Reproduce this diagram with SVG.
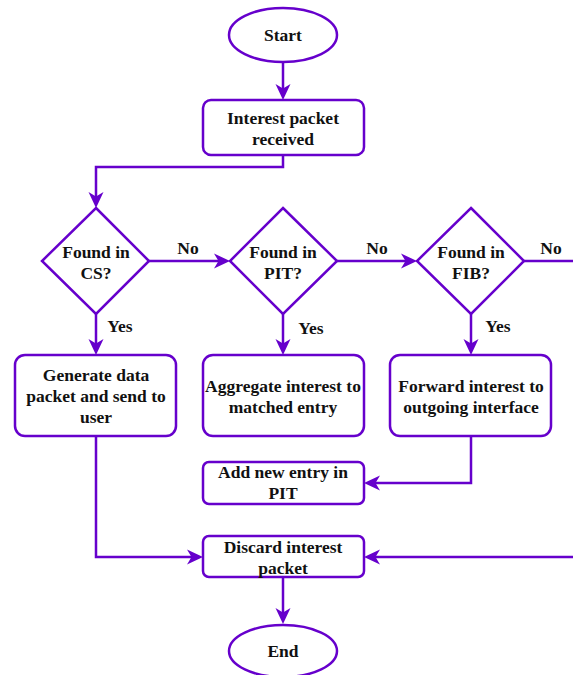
<svg xmlns="http://www.w3.org/2000/svg" width="573" height="675" viewBox="0 0 573 675">
  <style>
    .shape { fill: #ffffff; stroke: #6600CC; stroke-width: 2.5; }
    .edge { fill: none; stroke: #6600CC; stroke-width: 2.5; }
    text { font-family: "Liberation Serif", "Times New Roman", serif; font-weight: bold; font-size: 17.5px; fill: #111111; text-anchor: middle; }
  </style>
  <defs>
    <marker id="arrow" markerUnits="userSpaceOnUse" markerWidth="20" markerHeight="20" viewBox="-2 -10 20 20" refX="6" refY="0" orient="auto">
      <path d="M0,-7.5 L16,0 L0,7.5 L4.5,0 z" fill="#6600CC"/>
    </marker>
  </defs>

  <!-- connectors -->
  <g id="connectors">
    <path class="edge" d="M283,62 V90" marker-end="url(#arrow)"/>
    <path class="edge" d="M283,155 V167 H96 V198" marker-end="url(#arrow)"/>
    <path class="edge" d="M149,261 H220" marker-end="url(#arrow)"/>
    <path class="edge" d="M337,261 H407" marker-end="url(#arrow)"/>
    <path class="edge" d="M524,261 H580 V557 H374" marker-end="url(#arrow)"/>
    <path class="edge" d="M96,314 V345" marker-end="url(#arrow)"/>
    <path class="edge" d="M283,314 V345" marker-end="url(#arrow)"/>
    <path class="edge" d="M471,314 V345" marker-end="url(#arrow)"/>
    <path class="edge" d="M471,436 V483 H374" marker-end="url(#arrow)"/>
    <path class="edge" d="M96,436 V557 H193" marker-end="url(#arrow)"/>
    <path class="edge" d="M283,577 V614" marker-end="url(#arrow)"/>
    <text x="188" y="254">No</text>
    <text x="377" y="254">No</text>
    <text x="551" y="254">No</text>
    <text x="120" y="332">Yes</text>
    <text x="311" y="334">Yes</text>
    <text x="498" y="332">Yes</text>
  </g>

  <g id="start">
    <ellipse class="shape" cx="283" cy="35" rx="54" ry="27"/>
    <text x="283" y="41">Start</text>
  </g>

  <g id="interest-received">
    <rect class="shape" x="203" y="100" width="161" height="55" rx="8"/>
    <text x="283" y="124">Interest packet</text>
    <text x="283" y="145">received</text>
  </g>

  <g id="found-cs">
    <polygon class="shape" points="96,208 149,261 96,314 42,261"/>
    <text x="96" y="258">Found in</text>
    <text x="96" y="279">CS?</text>
  </g>

  <g id="found-pit">
    <polygon class="shape" points="283,208 337,261 283,314 230,261"/>
    <text x="283" y="258">Found in</text>
    <text x="283" y="279">PIT?</text>
  </g>

  <g id="found-fib">
    <polygon class="shape" points="471,208 524,261 471,314 417,261"/>
    <text x="471" y="258">Found in</text>
    <text x="471" y="279">FIB?</text>
  </g>

  <g id="generate-data">
    <rect class="shape" x="15" y="355" width="161" height="81" rx="10"/>
    <text x="96" y="381">Generate data</text>
    <text x="96" y="402">packet and send to</text>
    <text x="96" y="423">user</text>
  </g>

  <g id="aggregate-interest">
    <rect class="shape" x="203" y="355" width="161" height="81" rx="10"/>
    <text x="283" y="392">Aggregate interest to</text>
    <text x="283" y="413">matched entry</text>
  </g>

  <g id="forward-interest">
    <rect class="shape" x="390" y="355" width="161" height="81" rx="10"/>
    <text x="471" y="392">Forward interest to</text>
    <text x="471" y="413">outgoing interface</text>
  </g>

  <g id="add-pit-entry">
    <rect class="shape" x="203" y="462" width="161" height="42" rx="6"/>
    <text x="283" y="478">Add new entry in</text>
    <text x="283" y="499">PIT</text>
  </g>

  <g id="discard-interest">
    <rect class="shape" x="203" y="536" width="161" height="41" rx="6"/>
    <text x="283" y="553">Discard interest</text>
    <text x="283" y="574">packet</text>
  </g>

  <g id="end">
    <ellipse class="shape" cx="283" cy="651" rx="54" ry="26"/>
    <text x="283" y="657">End</text>
  </g>
</svg>
